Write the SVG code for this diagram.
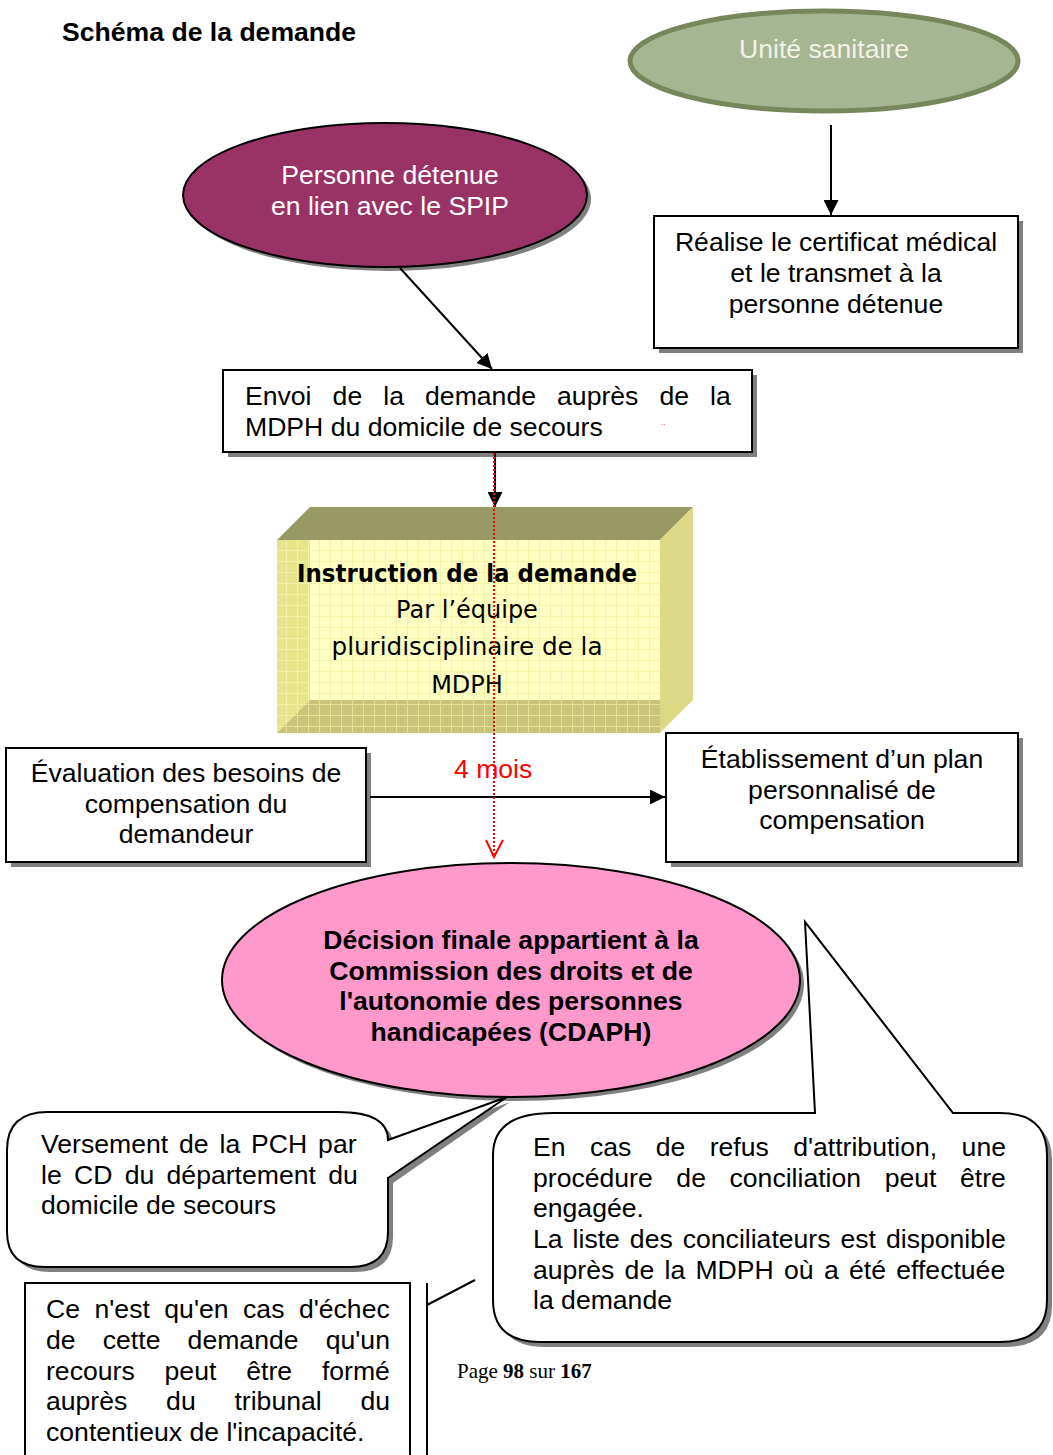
<svg xmlns="http://www.w3.org/2000/svg" width="1053" height="1455" viewBox="0 0 1053 1455">
<style>
.t{font-family:"Liberation Sans",Arial,sans-serif;font-size:26.6px;fill:#000}
.c{text-anchor:middle}
.b{font-weight:bold}
.box{fill:#fff;stroke:#000;stroke-width:2}
.sh{fill:#808080;stroke:none}
.ln{stroke:#000;stroke-width:2;fill:none}
.comic{font-family:"DejaVu Sans",sans-serif;font-size:24px;fill:#000;text-anchor:middle}
</style>
<defs>
<marker id="ah" viewBox="0 0 10 10" refX="10" refY="5" markerWidth="15" markerHeight="15" markerUnits="userSpaceOnUse" orient="auto">
<path d="M0,0 L10,5 L0,10 Z" fill="#000"/>
</marker>
<pattern id="gridF" width="11" height="11" patternUnits="userSpaceOnUse">
<rect width="11" height="11" fill="#ffffc4"/>
<path d="M0,0.5H11M0.5,0V11" stroke="#f6f2a8" stroke-width="1"/>
</pattern>
<pattern id="gridL" width="11" height="11" patternUnits="userSpaceOnUse">
<rect width="11" height="11" fill="#e8e48c"/>
<path d="M0,0.5H11M0.5,0V11" stroke="#f2f0a4" stroke-width="1"/>
</pattern>
<pattern id="gridB" width="11" height="11" patternUnits="userSpaceOnUse">
<rect width="11" height="11" fill="#c9c47a"/>
<path d="M0,0.5H11M0.5,0V11" stroke="#e4e092" stroke-width="1"/>
</pattern>
</defs>

<text id="title" class="t b" x="62" y="41">Schéma de la demande</text>

<g id="unite">
<ellipse cx="824" cy="61" rx="194" ry="50" fill="#a6b592" stroke="#77875c" stroke-width="5"/>
<text class="t c" x="824" y="58" style="fill:#f2f2e6">Unité sanitaire</text>
</g>

<g id="personne">
<ellipse cx="389" cy="199" rx="202" ry="72" class="sh"/>
<ellipse cx="385" cy="195" rx="202" ry="72" fill="#993366" stroke="#000" stroke-width="2"/>
<text class="t c" x="390" y="184" style="fill:#fff">Personne détenue</text>
<text class="t c" x="390" y="215" style="fill:#fff">en lien avec le SPIP</text>
</g>

<g id="realise">
<rect x="659" y="221" width="364" height="132" class="sh"/>
<rect x="654" y="216" width="364" height="132" class="box"/>
<text class="t c" x="836" y="251">Réalise le certificat médical</text>
<text class="t c" x="836" y="282">et le transmet à la</text>
<text class="t c" x="836" y="313">personne détenue</text>
</g>

<g id="envoi">
<rect x="228" y="375" width="529" height="82" class="sh"/>
<rect x="223" y="370" width="529" height="82" class="box"/>
<text class="t" x="245" y="405" style="word-spacing:13.7px">Envoi de la demande auprès de la</text>
<text class="t" x="245" y="436">MDPH du domicile de secours</text>
<text x="661" y="425" style="font-family:'Liberation Sans',sans-serif;font-size:8px;fill:#ff0000">..</text>
</g>

<g id="instruction">
<polygon points="277,540 310,507 693,507 660,540" fill="#999966"/>
<polygon points="660,540 693,507 693,700 660,733" fill="#dcd986"/>
<rect x="277" y="540" width="383" height="193" fill="url(#gridF)"/>
<polygon points="277,540 310,540 310,700 277,733" fill="url(#gridL)"/>
<polygon points="277,733 310,700 660,700 660,733" fill="url(#gridB)"/>
<text class="comic b" x="467" y="582" textLength="340" lengthAdjust="spacingAndGlyphs">Instruction de la demande</text>
<text class="comic" x="467" y="618">Par l’équipe</text>
<text class="comic" x="467" y="655" textLength="271" lengthAdjust="spacingAndGlyphs">pluridisciplinaire de la</text>
<text class="comic" x="467" y="693">MDPH</text>
</g>

<g id="evaluation">
<rect x="11" y="753" width="360" height="114" class="sh"/>
<rect x="6" y="748" width="360" height="114" class="box"/>
<text class="t c" x="186" y="782">Évaluation des besoins de</text>
<text class="t c" x="186" y="813">compensation du</text>
<text class="t c" x="186" y="843">demandeur</text>
</g>

<g id="etablissement">
<rect x="671" y="738" width="352" height="129" class="sh"/>
<rect x="666" y="733" width="352" height="129" class="box"/>
<text class="t c" x="842" y="768">Établissement d’un plan</text>
<text class="t c" x="842" y="799">personnalisé de</text>
<text class="t c" x="842" y="829">compensation</text>
</g>

<g id="cdaph">
<ellipse cx="515" cy="984" rx="289" ry="117" class="sh"/>
<ellipse cx="511" cy="980" rx="289" ry="117" fill="#ff99cc" stroke="#000" stroke-width="2"/>
<text class="t c b" x="511" y="949">Décision finale appartient à la</text>
<text class="t c b" x="511" y="980">Commission des droits et de</text>
<text class="t c b" x="511" y="1010">l'autonomie des personnes</text>
<text class="t c b" x="511" y="1041">handicapées (CDAPH)</text>
</g>

<g id="versement">
<path d="M52,1117 L340,1117 Q393,1117 393,1145 L510,1102 L393,1183 L393,1237 Q393,1272 355,1272 L50,1272 Q12,1272 12,1237 L12,1155 Q12,1117 52,1117 Z" class="sh"/>
<path d="M48,1112 L338,1112 Q388,1112 388,1140 L507,1097 L388,1178 L388,1232 Q388,1267 350,1267 L45,1267 Q7,1267 7,1232 L7,1150 Q7,1112 48,1112 Z" fill="#fff" stroke="#000" stroke-width="2"/>
<text class="t" x="41" y="1153" style="word-spacing:3.5px">Versement de la PCH par</text>
<text class="t" x="41" y="1184" style="word-spacing:4.9px">le CD du département du</text>
<text class="t" x="41" y="1214">domicile de secours</text>
</g>

<g id="refus">
<path d="M558,1118 L820,1118 L810,927 L958,1118 L1005,1118 Q1052,1118 1052,1160 L1052,1305 Q1052,1347 1005,1347 L545,1347 Q498,1347 498,1305 L498,1160 Q498,1118 558,1118 Z" class="sh"/>
<path d="M553,1113 L815,1113 L805,922 L953,1113 L1000,1113 Q1047,1113 1047,1155 L1047,1300 Q1047,1342 1000,1342 L540,1342 Q493,1342 493,1300 L493,1155 Q493,1113 553,1113 Z" fill="#fff" stroke="#000" stroke-width="2"/>
<text class="t" x="533" y="1156" style="word-spacing:17px">En cas de refus d'attribution, une</text>
<text class="t" x="533" y="1187" style="word-spacing:16.2px">procédure de conciliation peut être</text>
<text class="t" x="533" y="1217">engagée.</text>
<text class="t" x="533" y="1248" style="word-spacing:2.6px">La liste des conciliateurs est disponible</text>
<text class="t" x="533" y="1279" style="word-spacing:2.9px">auprès de la MDPH où a été effectuée</text>
<text class="t" x="533" y="1309">la demande</text>
</g>

<g id="recours">
<rect x="25" y="1283" width="385" height="190" class="box"/>
<text class="t" x="46" y="1318" style="word-spacing:7.1px">Ce n'est qu'en cas d'échec</text>
<text class="t" x="46" y="1349" style="word-spacing:19.8px">de cette demande qu'un</text>
<text class="t" x="46" y="1380" style="word-spacing:22.5px">recours peut être formé</text>
<text class="t" x="46" y="1410" style="word-spacing:31.4px">auprès du tribunal du</text>
<text class="t" x="46" y="1441">contentieux de l'incapacité.</text>
</g>

<g id="fragment">
<path d="M427,1283 L427,1460 M427,1305 L475,1280" class="ln"/>
</g>

<text id="page" x="457" y="1378" style="font-family:'Liberation Serif','Times New Roman',serif;font-size:21px;fill:#000">Page <tspan font-weight="bold">98</tspan> sur <tspan font-weight="bold">167</tspan></text>

<g id="connectors">
<line x1="831" y1="125" x2="831" y2="215" class="ln" marker-end="url(#ah)"/>
<line x1="400" y1="268" x2="492" y2="369" class="ln" marker-end="url(#ah)"/>
<line x1="495" y1="452" x2="495" y2="507" class="ln" marker-end="url(#ah)"/>
<line x1="370" y1="797" x2="665" y2="797" class="ln" marker-end="url(#ah)"/>
<line x1="494" y1="453" x2="494" y2="856" stroke="#ff0000" stroke-width="2" stroke-dasharray="2,2"/>
<path d="M486,840 L494,857 L503,840" fill="none" stroke="#ff0000" stroke-width="2"/>
<text x="454" y="778" class="t" style="fill:#ff0000">4 mois</text>
</g>
</svg>
